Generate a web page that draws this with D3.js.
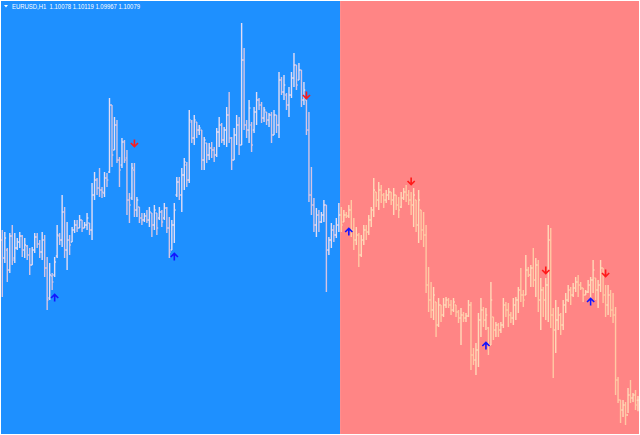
<!DOCTYPE html>
<html>
<head>
<meta charset="utf-8">
<script src="https://cdn.jsdelivr.net/npm/d3@7"></script>
<style>
  html, body { margin: 0; padding: 0; background: #fff; }
  svg { display: block; }
</style>
</head>
<body>
<script>
// EURUSD H1 bars (oldest first)
const symbol = "EURUSD,H1";

const high = [
  1.1178,1.1176,1.1160,1.1175,1.1183,1.1175,1.1170,1.1176,1.1173,1.1170,
  1.1163,1.1160,1.1161,1.1175,1.1175,1.1168,1.1176,1.1173,1.1151,1.1145,
  1.1135,1.1151,1.1183,1.1175,1.1213,1.1201,1.1186,1.1173,1.1181,1.1188,
  1.1188,1.1193,1.1188,1.1186,1.1195,1.1185,1.1225,1.1236,1.1230,1.1240,
  1.1221,1.1236,1.1235,1.1310,1.1303,1.1291,1.1288,1.1251,1.1270,1.1268,
  1.1258,1.1215,1.1245,1.1245,1.1211,1.1201,1.1195,1.1195,1.1198,1.1201,
  1.1195,1.1203,1.1195,1.1201,1.1198,1.1205,1.1201,1.1191,1.1188,1.1205,
  1.1231,1.1231,1.1240,1.1250,1.1246,1.1298,1.1288,1.1293,1.1286,1.1283,
  1.1278,1.1271,1.1265,1.1265,1.1266,1.1261,1.1280,1.1291,1.1285,1.1281,
  1.1301,1.1316,1.1271,1.1280,1.1293,1.1291,1.1385,1.1360,1.1288,1.1308,
  1.1286,1.1301,1.1316,1.1310,1.1306,1.1301,1.1296,1.1295,1.1296,1.1298,
  1.1293,1.1336,1.1331,1.1333,1.1315,1.1321,1.1336,1.1355,1.1343,1.1345,
  1.1338,1.1326,1.1308,1.1296,1.1241,1.1210,1.1200,1.1198,1.1196,1.1208,
  1.1203,1.1171,1.1185,1.1183,1.1190,1.1205,1.1201,1.1198,1.1196,1.1203,
  1.1208,1.1190,1.1181,1.1175,1.1173,1.1183,1.1183,1.1193,1.1201,1.1230,
  1.1216,1.1226,1.1223,1.1215,1.1218,1.1220,1.1216,1.1220,1.1213,1.1211,
  1.1216,1.1220,1.1223,1.1218,1.1216,1.1220,1.1208,1.1218,1.1198,1.1196,
  1.1183,1.1141,1.1126,1.1121,1.1106,1.1110,1.1103,1.1110,1.1111,1.1110,
  1.1108,1.1110,1.1103,1.1098,1.1100,1.1096,1.1095,1.1108,1.1106,1.1060,
  1.1065,1.1095,1.1110,1.1101,1.1100,1.1081,1.1126,1.1091,1.1086,1.1085,
  1.1086,1.1110,1.1106,1.1105,1.1096,1.1110,1.1111,1.1121,1.1140,1.1118,
  1.1153,1.1141,1.1143,1.1160,1.1150,1.1148,1.1130,1.1121,1.1130,1.1183,
  1.1180,1.1100,1.1108,1.1101,1.1095,1.1108,1.1115,1.1123,1.1121,1.1125,
  1.1131,1.1133,1.1126,1.1120,1.1118,1.1128,1.1131,1.1148,1.1130,1.1128,
  1.1148,1.1140,1.1123,1.1123,1.1118,1.1115,1.1101,1.1031,1.1008,1.1008,
  1.1006,1.1020,1.1028,1.1015,1.1018,1.10119
];

const low = [
  1.1111,1.1145,1.1126,1.1135,1.1143,1.1145,1.1158,1.1160,1.1151,1.1150,
  1.1148,1.1133,1.1143,1.1155,1.1160,1.1150,1.1148,1.1131,1.1098,1.1108,
  1.1118,1.1131,1.1150,1.1163,1.1161,1.1150,1.1138,1.1153,1.1166,1.1175,
  1.1176,1.1180,1.1176,1.1180,1.1178,1.1173,1.1168,1.1208,1.1213,1.1211,
  1.1210,1.1211,1.1221,1.1235,1.1241,1.1258,1.1245,1.1221,1.1240,1.1245,
  1.1193,1.1185,1.1208,1.1191,1.1191,1.1185,1.1183,1.1186,1.1185,1.1181,
  1.1171,1.1178,1.1173,1.1188,1.1181,1.1188,1.1175,1.1150,1.1158,1.1165,
  1.1211,1.1208,1.1196,1.1218,1.1221,1.1225,1.1265,1.1263,1.1270,1.1273,
  1.1238,1.1238,1.1245,1.1248,1.1250,1.1246,1.1251,1.1261,1.1265,1.1263,
  1.1261,1.1265,1.1238,1.1248,1.1263,1.1253,1.1263,1.1278,1.1270,1.1265,
  1.1256,1.1275,1.1283,1.1298,1.1285,1.1286,1.1283,1.1281,1.1265,1.1273,
  1.1275,1.1270,1.1313,1.1308,1.1298,1.1291,1.1310,1.1321,1.1318,1.1328,
  1.1301,1.1303,1.1273,1.1206,1.1193,1.1176,1.1171,1.1176,1.1185,1.1186,
  1.1116,1.1153,1.1160,1.1166,1.1170,1.1176,1.1176,1.1186,1.1190,1.1190,
  1.1171,1.1158,1.1163,1.1141,1.1151,1.1163,1.1168,1.1173,1.1181,1.1191,
  1.1201,1.1198,1.1205,1.1200,1.1205,1.1208,1.1203,1.1193,1.1198,1.1190,
  1.1200,1.1208,1.1206,1.1203,1.1193,1.1181,1.1176,1.1165,1.1168,1.1161,
  1.1115,1.1096,1.1090,1.1088,1.1071,1.1081,1.1086,1.1091,1.1100,1.1100,
  1.1093,1.1096,1.1091,1.1085,1.1063,1.1086,1.1086,1.1091,1.1038,1.1043,
  1.1033,1.1041,1.1071,1.1081,1.1078,1.1053,1.1063,1.1068,1.1071,1.1071,
  1.1075,1.1080,1.1091,1.1081,1.1085,1.1083,1.1088,1.1095,1.1106,1.1101,
  1.1113,1.1131,1.1121,1.1121,1.1111,1.1096,1.1078,1.1091,1.1088,1.1086,
  1.1080,1.1030,1.1055,1.1078,1.1073,1.1078,1.1095,1.1106,1.1103,1.1111,
  1.1116,1.1111,1.1118,1.1106,1.1113,1.1115,1.1103,1.1115,1.1108,1.1100,
  1.1116,1.1105,1.1091,1.1093,1.1091,1.1085,1.1013,1.1005,1.0985,1.0991,
  1.0983,1.0995,1.1005,1.1006,1.0998,1.09967
];

const open = [
  1.1168,1.1150,1.1158,1.1138,1.1172,1.1150,1.1160,1.1166,1.1172,1.1158,
  1.1162,1.1153,1.1143,1.1158,1.1171,1.1164,1.1156,1.1168,1.1140,1.1110,
  1.1132,1.1133,1.1152,1.1172,1.1168,1.1196,1.1158,1.1168,1.1166,1.1178,
  1.1183,1.1180,1.1188,1.1180,1.1183,1.1185,1.1178,1.1213,1.1228,1.1220,
  1.1218,1.1215,1.1230,1.1236,1.1303,1.1258,1.1283,1.1248,1.1243,1.1266,
  1.1250,1.1208,1.1210,1.1238,1.1198,1.1201,1.1190,1.1188,1.1192,1.1188,
  1.1195,1.1183,1.1195,1.1190,1.1196,1.1190,1.1200,1.1180,1.1158,1.1183,
  1.1213,1.1226,1.1213,1.1233,1.1243,1.1228,1.1286,1.1270,1.1286,1.1278,
  1.1278,1.1248,1.1265,1.1253,1.1260,1.1258,1.1253,1.1276,1.1283,1.1268,
  1.1278,1.1293,1.1270,1.1248,1.1273,1.1283,1.1263,1.1348,1.1283,1.1278,
  1.1283,1.1278,1.1296,1.1308,1.1303,1.1290,1.1296,1.1288,1.1293,1.1273,
  1.1293,1.1283,1.1328,1.1316,1.1313,1.1303,1.1313,1.1330,1.1343,1.1328,
  1.1338,1.1308,1.1308,1.1278,1.1213,1.1203,1.1183,1.1193,1.1186,1.1193,
  1.1203,1.1158,1.1168,1.1178,1.1173,1.1183,1.1193,1.1186,1.1193,1.1192,
  1.1198,1.1178,1.1168,1.1173,1.1153,1.1168,1.1178,1.1176,1.1188,1.1198,
  1.1216,1.1208,1.1218,1.1213,1.1208,1.1213,1.1216,1.1208,1.1213,1.1203,
  1.1201,1.1210,1.1216,1.1213,1.1208,1.1203,1.1208,1.1183,1.1198,1.1178,
  1.1173,1.1123,1.1108,1.1098,1.1106,1.1083,1.1103,1.1093,1.1103,1.1108,
  1.1103,1.1098,1.1103,1.1096,1.1090,1.1093,1.1090,1.1092,1.1103,1.1053,
  1.1048,1.1058,1.1088,1.1098,1.1088,1.1080,1.1063,1.1091,1.1078,1.1083,
  1.1078,1.1083,1.1103,1.1098,1.1093,1.1090,1.1103,1.1108,1.1118,1.1113,
  1.1113,1.1138,1.1133,1.1140,1.1128,1.1143,1.1108,1.1118,1.1108,1.1123,
  1.1168,1.1093,1.1078,1.1088,1.1093,1.1083,1.1103,1.1108,1.1118,1.1113,
  1.1120,1.1126,1.1123,1.1120,1.1113,1.1116,1.1123,1.1128,1.1130,1.1118,
  1.1123,1.1140,1.1113,1.1103,1.1113,1.1098,1.1093,1.1028,1.1008,1.0998,
  1.1003,1.0993,1.1013,1.1010,1.1013,1.10078
];

const close = [
  1.1150,1.1170,1.1138,1.1172,1.1148,1.1160,1.1166,1.1172,1.1158,1.1163,
  1.1153,1.1143,1.1158,1.1171,1.1164,1.1156,1.1168,1.1140,1.1108,1.1133,
  1.1126,1.1146,1.1173,1.1168,1.1196,1.1158,1.1168,1.1163,1.1178,1.1183,
  1.1180,1.1188,1.1180,1.1183,1.1190,1.1178,1.1213,1.1228,1.1220,1.1218,
  1.1216,1.1230,1.1228,1.1303,1.1253,1.1283,1.1248,1.1238,1.1266,1.1248,
  1.1208,1.1203,1.1240,1.1198,1.1208,1.1190,1.1188,1.1192,1.1188,1.1196,
  1.1183,1.1198,1.1180,1.1196,1.1186,1.1200,1.1180,1.1156,1.1183,1.1198,
  1.1226,1.1213,1.1233,1.1246,1.1228,1.1288,1.1270,1.1288,1.1278,1.1280,
  1.1248,1.1268,1.1253,1.1260,1.1258,1.1253,1.1276,1.1283,1.1268,1.1278,
  1.1293,1.1270,1.1248,1.1273,1.1283,1.1263,1.1348,1.1283,1.1278,1.1300,
  1.1263,1.1296,1.1308,1.1303,1.1290,1.1298,1.1288,1.1293,1.1273,1.1293,
  1.1283,1.1328,1.1316,1.1323,1.1303,1.1313,1.1330,1.1343,1.1323,1.1338,
  1.1308,1.1318,1.1278,1.1213,1.1203,1.1183,1.1193,1.1186,1.1193,1.1203,
  1.1158,1.1168,1.1178,1.1173,1.1183,1.1193,1.1183,1.1193,1.1192,1.1198,
  1.1178,1.1168,1.1173,1.1153,1.1168,1.1178,1.1176,1.1188,1.1198,1.1218,
  1.1208,1.1218,1.1213,1.1208,1.1213,1.1216,1.1208,1.1213,1.1203,1.1198,
  1.1210,1.1216,1.1213,1.1208,1.1203,1.1213,1.1183,1.1208,1.1178,1.1173,
  1.1123,1.1108,1.1098,1.1113,1.1083,1.1103,1.1093,1.1103,1.1108,1.1103,
  1.1098,1.1106,1.1096,1.1090,1.1093,1.1090,1.1092,1.1103,1.1053,1.1048,
  1.1058,1.1088,1.1098,1.1088,1.1093,1.1063,1.1108,1.1078,1.1083,1.1078,
  1.1083,1.1103,1.1098,1.1093,1.1090,1.1103,1.1108,1.1118,1.1113,1.1108,
  1.1138,1.1133,1.1140,1.1128,1.1143,1.1108,1.1118,1.1108,1.1123,1.1168,
  1.1093,1.1078,1.1088,1.1093,1.1083,1.1103,1.1108,1.1118,1.1113,1.1120,
  1.1126,1.1123,1.1120,1.1113,1.1116,1.1123,1.1128,1.1138,1.1118,1.1123,
  1.1140,1.1113,1.1103,1.1113,1.1098,1.1093,1.1028,1.1008,1.0998,1.1003,
  1.0993,1.1013,1.1010,1.1013,1.1003,1.10079
];

// first bar of the second (pink) zone
const zoneSplit = 136;
const zoneColors = ["#1e90ff", "#ff8585"];

// signal arrows: bar index and price level
const upBars = [21, 69, 139, 194, 236];
const upPrices = [1.1110, 1.1151, 1.1176, 1.1062, 1.1106];
const downBars = [53, 122, 164, 218, 242];
const downPrices = [1.1265, 1.1313, 1.1227, 1.1138, 1.1135];

const w = 640;
const h = 435;
const n = high.length;

const x = d3.scaleLinear().domain([0, n - 1]).range([2.3, 638]);
const y = d3.scaleLinear().domain([1.0973, 1.1408]).range([h, 0]);
const half = (x(1) - x(0)) / 2;
const splitX = x(zoneSplit) - half;

const svg = d3.select("body")
  .append("svg")
  .attr("width", w)
  .attr("height", h);

// coloured zones behind the bars
svg.append("rect")
  .attr("x", 0).attr("y", 0)
  .attr("width", splitX).attr("height", h)
  .attr("fill", zoneColors[0]);
svg.append("rect")
  .attr("x", splitX).attr("y", 0)
  .attr("width", w - splitX).attr("height", h)
  .attr("fill", zoneColors[1]);

// bar colour depends on zone and direction
function barColor(i) {
  const up = close[i] >= open[i];
  if (i >= zoneSplit) return up ? "#ffd9b8" : "#ffc9a4";
  return up ? "#e2dcf4" : "#d4c4e4";
}

const tick = 1.3;
svg.append("g")
  .selectAll("path")
  .data(d3.range(n))
  .join("path")
  .attr("d", i => {
    const cx = x(i);
    return `M${cx},${y(high[i])}V${y(low[i])}` +
           `M${cx - tick},${y(open[i])}H${cx}` +
           `M${cx},${y(close[i])}H${cx + tick}`;
  })
  .attr("fill", "none")
  .attr("stroke", barColor)
  .attr("stroke-width", 1.4);

// arrows
const s = 3.6;
svg.append("g")
  .selectAll("path")
  .data(upBars)
  .join("path")
  .attr("d", (b, k) => {
    const cx = x(b), cy = y(upPrices[k]);
    return `M${cx - s},${cy} L${cx},${cy - s} L${cx + s},${cy} M${cx},${cy - s} V${cy + s}`;
  })
  .attr("fill", "none")
  .attr("stroke", "#1414ff")
  .attr("stroke-width", 1.6);

svg.append("g")
  .selectAll("path")
  .data(downBars)
  .join("path")
  .attr("d", (b, k) => {
    const cx = x(b), cy = y(downPrices[k]);
    return `M${cx - s},${cy} L${cx},${cy + s} L${cx + s},${cy} M${cx},${cy + s} V${cy - s}`;
  })
  .attr("fill", "none")
  .attr("stroke", "#ff1a1a")
  .attr("stroke-width", 1.6);

// header with the last bar's OHLC
const fmt = d3.format(".5f");
const last = n - 1;
svg.append("path")
  .attr("d", "M4,5 L8,5 L6,7.6 Z")
  .attr("fill", "#ffffff");
svg.append("text")
  .attr("x", 12)
  .attr("y", 9)
  .attr("fill", "#ffffff")
  .attr("font-family", "Liberation Sans, Arial, sans-serif")
  .attr("font-size", "7px")
  .attr("textLength", 128)
  .attr("lengthAdjust", "spacingAndGlyphs")
  .attr("xml:space", "preserve")
  .style("white-space", "pre")
  .text(`${symbol}  ${fmt(open[last])} ${fmt(high[last])} ${fmt(low[last])} ${fmt(close[last])}`);

// chart frame
svg.append("rect")
  .attr("x", 0.5).attr("y", 0.5)
  .attr("width", w - 1).attr("height", h - 1)
  .attr("fill", "none")
  .attr("stroke", "#ffffff")
  .attr("stroke-width", 1);
</script>
</body>
</html>
